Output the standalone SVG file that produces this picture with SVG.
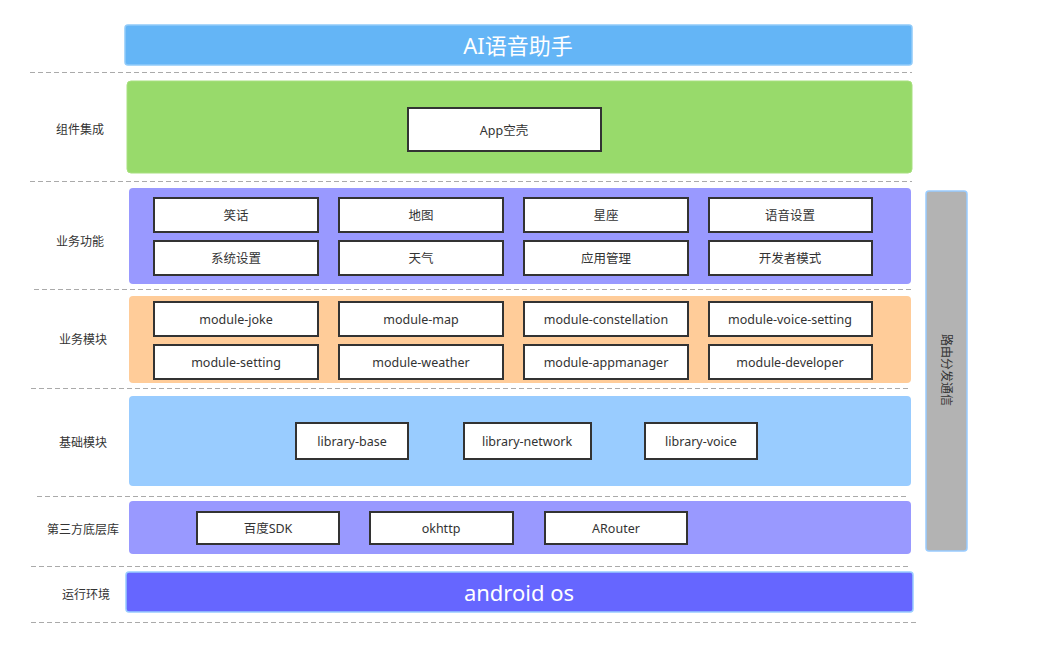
<svg xmlns="http://www.w3.org/2000/svg" width="1043" height="657" viewBox="0 0 1043 657">
<style>
text{font-family:"Noto Sans","Noto Sans CJK SC",sans-serif;fill:#333;text-anchor:middle;dominant-baseline:central}
.lbl{font-size:12px}
.bt{font-size:12.5px}
.box{fill:#fff;stroke:#333;stroke-width:2}
.dash{stroke:#aaa;stroke-width:1.2;stroke-dasharray:5 3;fill:none}
.big{font-size:22px;fill:#fff}
</style>
<rect width="1043" height="657" fill="#fff"/>
<g id="dividers">
<line class="dash" x1="30" y1="72.5" x2="912" y2="72.5"/>
<line class="dash" x1="30" y1="181.5" x2="912" y2="181.5"/>
<line class="dash" x1="34" y1="289.5" x2="912" y2="289.5"/>
<line class="dash" x1="31" y1="388.5" x2="910" y2="388.5"/>
<line class="dash" x1="37" y1="496.5" x2="909" y2="496.5"/>
<line class="dash" x1="31" y1="566.5" x2="908" y2="566.5"/>
<line class="dash" x1="31" y1="622.5" x2="918" y2="622.5"/>
</g>
<g id="title">
<rect x="125" y="25" width="787" height="40" rx="3" fill="#64B5F6" stroke="#90CAF9" stroke-width="1.5"/>
<text class="big" x="518" y="45">AI语音助手</text>
</g>
<g id="labels">
<text class="lbl" x="80" y="129">组件集成</text>
<text class="lbl" x="80" y="241">业务功能</text>
<text class="lbl" x="83" y="339">业务模块</text>
<text class="lbl" x="83" y="442">基础模块</text>
<text class="lbl" x="83" y="529">第三方底层库</text>
<text class="lbl" x="86" y="594">运行环境</text>
</g>
<g id="layer-integration">
<rect x="127" y="81" width="785" height="92" rx="4" fill="#98DA6B" stroke="#A8E080" stroke-width="1"/>
<g id="app-shell"><rect class="box" x="408" y="108" width="193" height="43"/><text class="bt" x="504" y="130">App空壳</text></g>
</g>
<g id="layer-features">
<rect x="129" y="188" width="782" height="96" rx="4" fill="#9999FF"/>
<g id="f-joke"><rect class="box" x="154" y="198" width="164" height="34"/><text class="bt" x="236" y="215">笑话</text></g>
<g id="f-map"><rect class="box" x="339" y="198" width="164" height="34"/><text class="bt" x="421" y="215">地图</text></g>
<g id="f-star"><rect class="box" x="524" y="198" width="164" height="34"/><text class="bt" x="606" y="215">星座</text></g>
<g id="f-voice"><rect class="box" x="709" y="198" width="163" height="34"/><text class="bt" x="790" y="215">语音设置</text></g>
<g id="f-setting"><rect class="box" x="154" y="241" width="164" height="34"/><text class="bt" x="236" y="258">系统设置</text></g>
<g id="f-weather"><rect class="box" x="339" y="241" width="164" height="34"/><text class="bt" x="421" y="258">天气</text></g>
<g id="f-app"><rect class="box" x="524" y="241" width="164" height="34"/><text class="bt" x="606" y="258">应用管理</text></g>
<g id="f-dev"><rect class="box" x="709" y="241" width="163" height="34"/><text class="bt" x="790" y="258">开发者模式</text></g>
</g>
<g id="layer-modules">
<rect x="129" y="296" width="782" height="87" rx="4" fill="#FFCC99"/>
<g id="m-joke"><rect class="box" x="154" y="302" width="164" height="34"/><text class="bt" x="236" y="319">module-joke</text></g>
<g id="m-map"><rect class="box" x="339" y="302" width="164" height="34"/><text class="bt" x="421" y="319">module-map</text></g>
<g id="m-const"><rect class="box" x="524" y="302" width="164" height="34"/><text class="bt" x="606" y="319">module-constellation</text></g>
<g id="m-voice"><rect class="box" x="709" y="302" width="163" height="34"/><text class="bt" x="790" y="319">module-voice-setting</text></g>
<g id="m-setting"><rect class="box" x="154" y="345" width="164" height="34"/><text class="bt" x="236" y="362">module-setting</text></g>
<g id="m-weather"><rect class="box" x="339" y="345" width="164" height="34"/><text class="bt" x="421" y="362">module-weather</text></g>
<g id="m-app"><rect class="box" x="524" y="345" width="164" height="34"/><text class="bt" x="606" y="362">module-appmanager</text></g>
<g id="m-dev"><rect class="box" x="709" y="345" width="163" height="34"/><text class="bt" x="790" y="362">module-developer</text></g>
</g>
<g id="layer-base">
<rect x="129" y="396" width="782" height="90" rx="4" fill="#99CCFF"/>
<g id="lib-base"><rect class="box" x="296" y="423" width="112" height="36"/><text class="bt" x="352" y="441">library-base</text></g>
<g id="lib-net"><rect class="box" x="464" y="423" width="127" height="36"/><text class="bt" x="527" y="441">library-network</text></g>
<g id="lib-voice"><rect class="box" x="645" y="423" width="112" height="36"/><text class="bt" x="701" y="441">library-voice</text></g>
</g>
<g id="layer-third">
<rect x="129" y="501" width="782" height="53" rx="4" fill="#9999FF"/>
<g id="t-baidu"><rect class="box" x="197" y="512" width="142" height="32"/><text class="bt" x="268" y="528">百度SDK</text></g>
<g id="t-okhttp"><rect class="box" x="370" y="512" width="143" height="32"/><text class="bt" x="441" y="528">okhttp</text></g>
<g id="t-arouter"><rect class="box" x="545" y="512" width="142" height="32"/><text class="bt" x="616" y="528">ARouter</text></g>
</g>
<g id="runtime">
<rect x="126" y="572" width="787" height="40" rx="3" fill="#6666FF" stroke="#99CCFF" stroke-width="1.5"/>
<text class="big" x="519" y="592">android os</text>
</g>
<g id="router">
<rect x="926" y="191" width="41" height="360" rx="3" fill="#B3B3B3" stroke="#99CCFF" stroke-width="1.5"/>
<text class="lbl" transform="translate(946 370) rotate(90)">路由分发通信</text>
</g>
<g id="connectors"></g>
</svg>
